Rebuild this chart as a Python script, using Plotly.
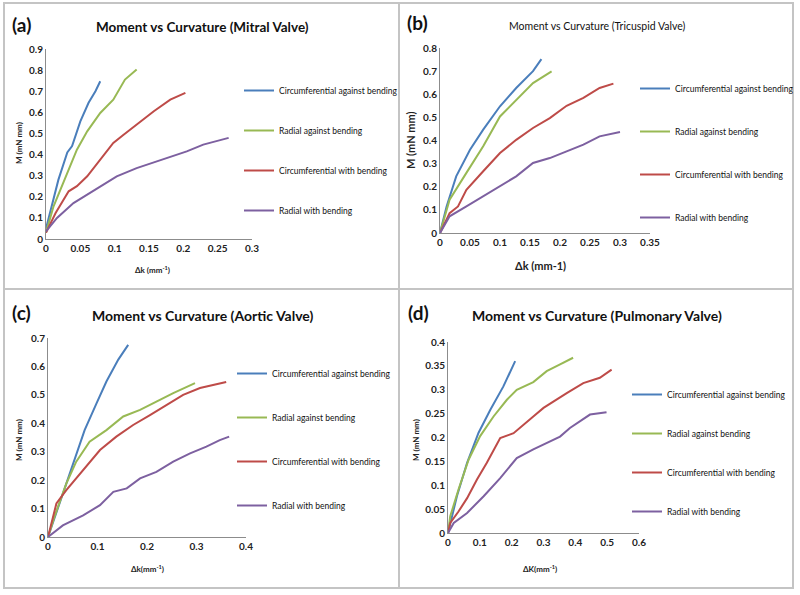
import plotly.graph_objects as go

FONT = "Lato"

SERIES = ["Circumferential against bending", "Radial against bending",
          "Circumferential with bending", "Radial with bending"]
COLORS = ["#4a7ebb", "#98b954", "#be4b48", "#7d60a0"]

# (a) mitral valve
mitral_ca_k = [0, 0.006, 0.018, 0.031, 0.038, 0.05, 0.062, 0.072, 0.079]
mitral_ca_m = [0.05, 0.123, 0.28, 0.41, 0.44, 0.557, 0.645, 0.7, 0.747]
mitral_ra_k = [0, 0.011, 0.026, 0.045, 0.06, 0.079, 0.098, 0.106, 0.115, 0.132]
mitral_ra_m = [0.03, 0.155, 0.273, 0.423, 0.51, 0.597, 0.66, 0.708, 0.755, 0.803]
mitral_cw_k = [0, 0.014, 0.033, 0.045, 0.06, 0.079, 0.098, 0.113, 0.132, 0.157, 0.181, 0.203]
mitral_cw_m = [0.03, 0.123, 0.226, 0.25, 0.297, 0.376, 0.455, 0.494, 0.542, 0.605, 0.66, 0.692]
mitral_rw_k = [0, 0.016, 0.04, 0.06, 0.079, 0.103, 0.132, 0.157, 0.181, 0.205, 0.229, 0.249, 0.266]
mitral_rw_m = [0.036, 0.1, 0.17, 0.21, 0.25, 0.297, 0.336, 0.363, 0.392, 0.415, 0.447, 0.463, 0.479]

# (b) tricuspid valve
tric_ca_k = [0, 0.011, 0.027, 0.05, 0.072, 0.1, 0.127, 0.155, 0.169]
tric_ca_m = [0, 0.115, 0.245, 0.36, 0.447, 0.548, 0.627, 0.7, 0.752]
tric_ra_k = [0, 0.016, 0.044, 0.072, 0.1, 0.127, 0.155, 0.186]
tric_ra_m = [0, 0.144, 0.26, 0.375, 0.504, 0.576, 0.648, 0.699]
tric_cw_k = [0, 0.016, 0.03, 0.044, 0.072, 0.1, 0.127, 0.155, 0.183, 0.211, 0.239, 0.266, 0.289]
tric_cw_m = [0, 0.086, 0.115, 0.187, 0.267, 0.346, 0.403, 0.454, 0.497, 0.55, 0.584, 0.627, 0.646]
tric_rw_k = [0, 0.016, 0.044, 0.072, 0.1, 0.127, 0.155, 0.183, 0.211, 0.239, 0.266, 0.3]
tric_rw_m = [0, 0.072, 0.115, 0.158, 0.202, 0.245, 0.303, 0.324, 0.353, 0.382, 0.418, 0.437]

# (c) aortic valve
aort_ca_k = [0, 0.03, 0.051, 0.074, 0.098, 0.118, 0.142, 0.162]
aort_ca_m = [0, 0.153, 0.259, 0.376, 0.47, 0.547, 0.624, 0.676]
aort_ra_k = [0, 0.013, 0.037, 0.057, 0.084, 0.118, 0.152, 0.186, 0.219, 0.253, 0.297]
aort_ra_m = [0, 0.071, 0.188, 0.265, 0.335, 0.376, 0.424, 0.447, 0.476, 0.506, 0.541]
aort_cw_k = [0, 0.017, 0.037, 0.071, 0.105, 0.138, 0.172, 0.206, 0.239, 0.273, 0.307, 0.341, 0.36]
aort_cw_m = [0, 0.118, 0.165, 0.235, 0.306, 0.353, 0.394, 0.429, 0.465, 0.5, 0.524, 0.538, 0.545]
aort_rw_k = [0, 0.03, 0.071, 0.105, 0.132, 0.159, 0.186, 0.219, 0.253, 0.287, 0.32, 0.347, 0.366]
aort_rw_m = [0, 0.041, 0.076, 0.112, 0.159, 0.171, 0.206, 0.229, 0.265, 0.294, 0.318, 0.341, 0.353]

# (d) pulmonary valve
pulm_ca_k = [0, 0.028, 0.06, 0.096, 0.133, 0.174, 0.211]
pulm_ca_m = [0, 0.077, 0.147, 0.21, 0.258, 0.307, 0.36]
pulm_ra_k = [0, 0.007, 0.033, 0.065, 0.101, 0.143, 0.185, 0.216, 0.268, 0.31, 0.352, 0.393]
pulm_ra_m = [0, 0.035, 0.091, 0.154, 0.203, 0.244, 0.279, 0.3, 0.316, 0.339, 0.353, 0.367]
pulm_cw_k = [0, 0.007, 0.033, 0.06, 0.091, 0.122, 0.164, 0.206, 0.268, 0.3, 0.373, 0.425, 0.477, 0.514]
pulm_cw_m = [0, 0.021, 0.045, 0.073, 0.112, 0.147, 0.199, 0.209, 0.244, 0.262, 0.293, 0.314, 0.325, 0.342]
pulm_rw_k = [0, 0.018, 0.06, 0.112, 0.164, 0.216, 0.268, 0.31, 0.352, 0.383, 0.414, 0.446, 0.498]
pulm_rw_m = [0, 0.021, 0.042, 0.077, 0.115, 0.157, 0.175, 0.188, 0.202, 0.22, 0.234, 0.248, 0.253]

PANELS = [
    dict(tag="(a)", title="Moment vs Curvature (Mitral Valve)", bold=True,
         curves=[(mitral_ca_k, mitral_ca_m), (mitral_ra_k, mitral_ra_m),
                 (mitral_cw_k, mitral_cw_m), (mitral_rw_k, mitral_rw_m)],
         xmax=0.3, xdt=0.05, ymax=0.9, ydt=0.1, xlab="Δk (mm<sup>-1</sup>)"),
    dict(tag="(b)", title="Moment vs Curvature (Tricuspid Valve)", bold=False,
         curves=[(tric_ca_k, tric_ca_m), (tric_ra_k, tric_ra_m),
                 (tric_cw_k, tric_cw_m), (tric_rw_k, tric_rw_m)],
         xmax=0.35, xdt=0.05, ymax=0.8, ydt=0.1, xlab="Δk (mm-1)"),
    dict(tag="(c)", title="Moment vs Curvature (Aortic Valve)", bold=True,
         curves=[(aort_ca_k, aort_ca_m), (aort_ra_k, aort_ra_m),
                 (aort_cw_k, aort_cw_m), (aort_rw_k, aort_rw_m)],
         xmax=0.4, xdt=0.1, ymax=0.7, ydt=0.1, xlab="Δk(mm<sup>-1</sup>)"),
    dict(tag="(d)", title="Moment vs Curvature (Pulmonary Valve)", bold=True,
         curves=[(pulm_ca_k, pulm_ca_m), (pulm_ra_k, pulm_ra_m),
                 (pulm_cw_k, pulm_cw_m), (pulm_rw_k, pulm_rw_m)],
         xmax=0.6, xdt=0.1, ymax=0.4, ydt=0.05, xlab="ΔK(mm<sup>-1</sup>)"),
]

W, H = 800, 595


def px_x(v):
    return v / W


def px_y(v):
    return 1 - v / H


# pixel geometry of each panel: axis box, title, legend (x, top, gap), labels
GEOM = [
    dict(x0=46, x1=252, y0=239, y1=49, tag=(10, 25), title=(202, 27, 13.5),
         leg=(239, 76, 40), ylab=(19, 143, 8), xlab=(152, 270, 8)),
    dict(x0=440, x1=650, y0=233, y1=48, tag=(405, 23), title=(597, 26, 10.5),
         leg=(635, 74, 43), ylab=(410, 140, 11), xlab=(540, 265, 11)),
    dict(x0=48, x1=246, y0=537, y1=338, tag=(10, 312), title=(202, 315, 14),
         leg=(232, 359, 44), ylab=(19, 440, 8), xlab=(147, 568, 8)),
    dict(x0=448, x1=639, y0=533, y1=342, tag=(406, 312), title=(597, 315, 14),
         leg=(627, 380, 39), ylab=(416, 440, 8), xlab=(540, 568, 8)),
]
LEG_FONT = 8.5
ITEM_H = 19

fig = go.Figure()
annotations = []
layout = {}

for i, (p, g) in enumerate(zip(PANELS, GEOM)):
    n = "" if i == 0 else str(i + 1)
    leg = "legend" + n
    for j, (k, m) in enumerate(p["curves"]):
        fig.add_trace(go.Scatter(
            x=k, y=m, mode="lines", name=SERIES[j],
            line=dict(color=COLORS[j], width=2),
            xaxis="x" + n, yaxis="y" + n, legend=leg,
            legendgroup="g%d%d" % (i, j)))

    axis_common = dict(showgrid=False, zeroline=False, showline=True,
                       linecolor="#8c8c8c", linewidth=1, ticks="",
                       tickfont=dict(family=FONT, size=10, color="#222", weight="bold"))
    layout["xaxis" + n] = dict(axis_common, domain=[px_x(g["x0"]), px_x(g["x1"])],
                               range=[0, p["xmax"]], dtick=p["xdt"], tick0=0,
                               anchor="y" + n)
    layout["yaxis" + n] = dict(axis_common, domain=[px_y(g["y0"]), px_y(g["y1"])],
                               range=[0, p["ymax"]], dtick=p["ydt"], tick0=0,
                               anchor="x" + n)
    layout[leg] = dict(x=px_x(g["leg"][0]), y=px_y(g["leg"][1]),
                       xanchor="left", yanchor="top", itemwidth=30,
                       tracegroupgap=g["leg"][2] - ITEM_H, bgcolor="rgba(0,0,0,0)",
                       font=dict(family=FONT, size=LEG_FONT, color="#111"))

    annotations.append(dict(text="<b>%s</b>" % p["tag"], x=px_x(g["tag"][0]),
                            y=px_y(g["tag"][1]), xanchor="left", yanchor="middle",
                            font=dict(family=FONT, size=19, color="#111")))
    t = "<b>%s</b>" % p["title"] if p["bold"] else p["title"]
    annotations.append(dict(text=t, x=px_x(g["title"][0]), y=px_y(g["title"][1]),
                            xanchor="center", yanchor="middle",
                            font=dict(family=FONT, size=g["title"][2], color="#111")))
    annotations.append(dict(text="<b>M (mN mm)</b>", x=px_x(g["ylab"][0]),
                            y=px_y(g["ylab"][1]), textangle=-90,
                            xanchor="center", yanchor="middle",
                            font=dict(family=FONT, size=g["ylab"][2], color="#222")))
    annotations.append(dict(text="<b>%s</b>" % p["xlab"], x=px_x(g["xlab"][0]),
                            y=px_y(g["xlab"][1]), xanchor="center", yanchor="middle",
                            font=dict(family=FONT, size=g["xlab"][2], color="#222")))

for a in annotations:
    a.update(xref="paper", yref="paper", showarrow=False)

grey = dict(color="#c4c4c4", width=2)
shapes = [
    dict(type="rect", x0=px_x(4), x1=px_x(793), y0=px_y(3), y1=px_y(588), line=grey),
    dict(type="line", x0=px_x(399), x1=px_x(399), y0=px_y(3), y1=px_y(588), line=grey),
    dict(type="line", x0=px_x(4), x1=px_x(793), y0=px_y(289), y1=px_y(289), line=grey),
]
for s in shapes:
    s.update(xref="paper", yref="paper", layer="below")

# autoexpand off: the right-hand legends must not shrink the plotting area
fig.update_layout(width=W, height=H,
                  margin=dict(l=0, r=0, t=0, b=0, autoexpand=False),
                  paper_bgcolor="white", plot_bgcolor="white",
                  annotations=annotations, shapes=shapes, **layout)

# page body has a default 8px margin; drop it so the figure fills the window
fig.write_html("out.html", config={"displayModeBar": False},
               post_script="document.body.style.margin = '0';")
